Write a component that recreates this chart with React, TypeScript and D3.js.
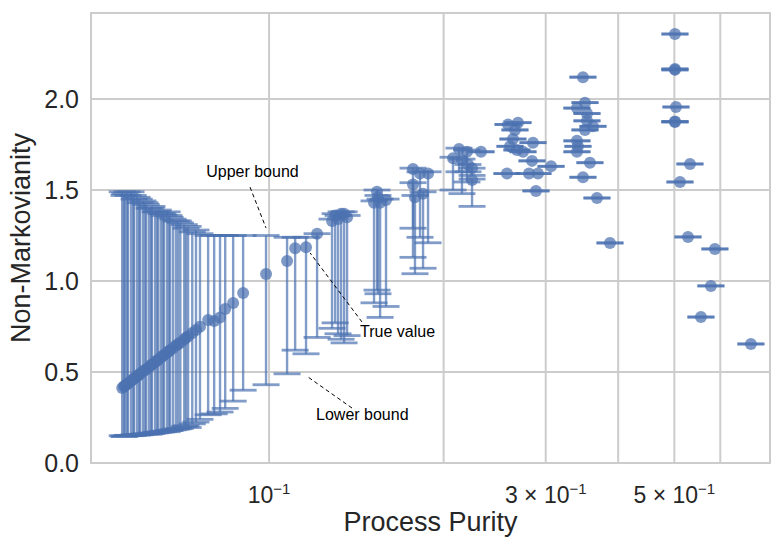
import React, { useEffect } from 'react';
import * as d3 from 'd3';

const W = 773;
const H = 538;
const margin = { top: 13, right: 3, bottom: 75, left: 91 };

// [purity, true value, lower bound, upper bound]
const lowPurityBand = [
  [0.0558, 0.412, 0.150, 1.49],
  [0.0562, 0.420, 0.145, 1.47],
  [0.0564, 0.425, 0.148, 1.48],
  [0.0569, 0.433, 0.150, 1.49],
  [0.0571, 0.438, 0.152, 1.47],
  [0.0578, 0.451, 0.150, 1.49],
  [0.0583, 0.459, 0.152, 1.47],
  [0.0585, 0.464, 0.155, 1.45],
  [0.0592, 0.477, 0.153, 1.46],
  [0.0597, 0.485, 0.157, 1.45],
  [0.0599, 0.490, 0.155, 1.43],
  [0.0606, 0.503, 0.158, 1.44],
  [0.0611, 0.511, 0.160, 1.43],
  [0.0614, 0.515, 0.160, 1.42],
  [0.0621, 0.528, 0.158, 1.40],
  [0.0626, 0.537, 0.165, 1.40],
  [0.0628, 0.541, 0.162, 1.41],
  [0.0636, 0.554, 0.165, 1.38],
  [0.0641, 0.563, 0.170, 1.38],
  [0.0644, 0.567, 0.168, 1.39],
  [0.0651, 0.580, 0.170, 1.37],
  [0.0656, 0.589, 0.172, 1.37],
  [0.0659, 0.593, 0.175, 1.36],
  [0.0667, 0.606, 0.172, 1.38],
  [0.0672, 0.615, 0.180, 1.36],
  [0.0675, 0.619, 0.178, 1.35],
  [0.0683, 0.632, 0.182, 1.34],
  [0.0691, 0.645, 0.185, 1.33],
  [0.0697, 0.653, 0.188, 1.33],
  [0.0703, 0.662, 0.190, 1.32],
  [0.0714, 0.679, 0.200, 1.31],
  [0.0719, 0.688, 0.205, 1.29],
  [0.0725, 0.696, 0.195, 1.30],
  [0.0737, 0.714, 0.215, 1.27],
  [0.0748, 0.731, 0.225, 1.28],
  [0.0760, 0.748, 0.240, 1.26],
  [0.0785, 0.786, 0.265, 1.25],
  [0.0804, 0.780, 0.270, 1.25],
  [0.0823, 0.800, 0.280, 1.25],
  [0.0840, 0.846, 0.300, 1.25],
  [0.0867, 0.879, 0.340, 1.25],
  [0.0902, 0.934, 0.400, 1.25],
];

const midBand = [
  [0.0988, 1.038, 0.430, 1.25],
  [0.1074, 1.110, 0.490, 1.24],
  [0.1109, 1.180, 0.620, 1.24],
  [0.1158, 1.185, 0.600, 1.24],
  [0.1210, 1.260, 0.690, 1.26],
  [0.1284, 1.33, 0.74, 1.34],
  [0.1300, 1.36, 0.77, 1.37],
  [0.1315, 1.34, 0.71, 1.36],
  [0.1331, 1.37, 0.68, 1.38],
  [0.1347, 1.37, 0.66, 1.38],
  [0.1363, 1.35, 0.70, 1.36],
  [0.1517, 1.43, 0.88, 1.44],
  [0.1535, 1.49, 0.95, 1.50],
  [0.1541, 1.46, 0.93, 1.47],
  [0.1554, 1.43, 0.80, 1.45],
  [0.1591, 1.445, 0.86, 1.45],
  [0.1771, 1.615, 1.29, 1.62],
  [0.1771, 1.53, 1.13, 1.54],
  [0.1785, 1.46, 1.04, 1.47],
  [0.1821, 1.59, 1.24, 1.60],
  [0.1843, 1.48, 1.07, 1.49],
  [0.1880, 1.59, 1.21, 1.60],
  [0.2076, 1.675, 1.50, 1.68],
  [0.2126, 1.725, 1.60, 1.73],
  [0.2151, 1.665, 1.48, 1.67],
  [0.2194, 1.71, 1.544, 1.72],
  [0.2203, 1.64, 1.60, 1.64],
  [0.2239, 1.62, 1.58, 1.62],
  [0.2239, 1.555, 1.41, 1.56],
  [0.2320, 1.71, 1.71, 1.71],
];

// [purity, value] – bounds collapse onto the true value
const tightMid = [
  [0.2687, 1.87], [0.2583, 1.86], [0.2655, 1.83], [0.2634, 1.78],
  [0.2852, 1.76], [0.2603, 1.74], [0.2676, 1.72], [0.2741, 1.71],
  [0.2841, 1.66], [0.3064, 1.63], [0.2572, 1.59], [0.2807, 1.59],
  [0.2909, 1.59], [0.2886, 1.495],
];

const tightHigh = [
  [0.3478, 2.12], [0.3506, 1.98], [0.3396, 1.95], [0.3534, 1.92],
  [0.3534, 1.88], [0.3619, 1.85], [0.3506, 1.83], [0.3396, 1.77],
  [0.3410, 1.74], [0.3396, 1.71], [0.3576, 1.65], [0.3478, 1.57],
  [0.3677, 1.456], [0.3872, 1.209],
];

const tightTop = [
  [0.5012, 2.357], [0.5012, 2.16], [0.5012, 2.165], [0.5032, 1.956],
  [0.5012, 1.874], [0.5012, 1.876], [0.5320, 1.643], [0.5113, 1.544],
  [0.5278, 1.242], [0.5874, 1.176], [0.5781, 0.973], [0.5557, 0.802],
  [0.6776, 0.654],
];

const yTicks = [0, 0.5, 1.0, 1.5, 2.0];
const xGridValues = [0.1, 0.2, 0.3, 0.4, 0.5, 0.6];
const xTickLabels = [
  { value: 0.1, coef: '' },
  { value: 0.3, coef: '3' },
  { value: 0.5, coef: '5' },
];

// label, text anchor [purity, value], line from [purity, value] to [purity, value]
const annotations = [
  { label: 'Upper bound', text: [0.0779, 1.571], from: [0.0927, 1.516], to: [0.0988, 1.291] },
  { label: 'True value', text: [0.1435, 0.692], from: [0.1446, 0.775], to: [0.1177, 1.154] },
  { label: 'Lower bound', text: [0.1205, 0.236], from: [0.1390, 0.302], to: [0.1167, 0.4725] },
];

const COLOR = '#4c72b0';
const GRID = '#cccccc';
const TEXT = '#262626';
const FONT = '"Liberation Sans", Arial, sans-serif';

export default function App() {
  useEffect(() => {
    document.body.style.margin = '0';
  }, []);

  const x = d3.scaleLog().domain([0.0493, 0.731]).range([margin.left, W - margin.right]);
  const y = d3.scaleLinear().domain([0, 2.4725]).range([H - margin.bottom, margin.top]);

  const rows = [
    ...lowPurityBand,
    ...midBand,
    ...[...tightMid, ...tightHigh, ...tightTop].map(([p, v]) => [p, v, v, v]),
  ];

  const cap = 13.5;
  const x0 = margin.left;
  const x1 = W - margin.right;
  const y0 = H - margin.bottom;
  const y1 = margin.top;

  return (
    <svg width={W} height={H} style={{ display: 'block', background: '#fff' }} fontFamily={FONT}>
      {/* grid */}
      {yTicks.map(t => (
        <line key={'gy' + t} x1={x0} x2={x1} y1={y(t)} y2={y(t)} stroke={GRID} strokeWidth={2} />
      ))}
      {xGridValues.map(t => (
        <line key={'gx' + t} x1={x(t)} x2={x(t)} y1={y0} y2={y1} stroke={GRID} strokeWidth={2} />
      ))}
      <rect x={x0} y={y1} width={x1 - x0} height={y0 - y1} fill="none" stroke={GRID} strokeWidth={2} />

      {/* error bars and points */}
      <g>
        {rows.map(([p, v, lo, hi], i) => {
          const cx = x(p);
          return (
            <g key={i}>
              <line x1={cx} x2={cx} y1={y(lo)} y2={y(hi)} stroke={COLOR} strokeWidth={2.4} strokeOpacity={0.7} />
              <line x1={cx - cap} x2={cx + cap} y1={y(lo)} y2={y(lo)} stroke={COLOR} strokeWidth={2.8} strokeOpacity={0.7} />
              <line x1={cx - cap} x2={cx + cap} y1={y(hi)} y2={y(hi)} stroke={COLOR} strokeWidth={2.8} strokeOpacity={0.7} />
              <circle cx={cx} cy={y(v)} r={6} fill={COLOR} fillOpacity={0.72} />
            </g>
          );
        })}
      </g>

      {/* annotations */}
      {annotations.map(a => (
        <g key={a.label}>
          <line
            x1={x(a.from[0])} y1={y(a.from[1])} x2={x(a.to[0])} y2={y(a.to[1])}
            stroke="#000" strokeWidth={1} strokeDasharray="4,3"
          />
          <text x={x(a.text[0])} y={y(a.text[1])} fontSize={16} fill="#000">{a.label}</text>
        </g>
      ))}

      {/* y ticks */}
      {yTicks.map(t => (
        <text key={'ty' + t} x={x0 - 12} y={y(t)} dy="0.35em" textAnchor="end" fontSize={25} fill={TEXT}>
          {d3.format('.1f')(t)}
        </text>
      ))}

      {/* x ticks */}
      {xTickLabels.map(t => (
        <text key={'tx' + t.value} x={x(t.value)} y={503} textAnchor="middle" fontSize={23} fill={TEXT}>
          {t.coef ? `${t.coef} × 10` : '10'}
          <tspan dy={-9} fontSize={15}>−1</tspan>
        </text>
      ))}

      <text x={(x0 + x1) / 2} y={531} textAnchor="middle" fontSize={27} fill={TEXT}>Process Purity</text>
      <text
        transform={`translate(${30},${(y0 + y1) / 2}) rotate(-90)`}
        textAnchor="middle" fontSize={27} fill={TEXT}
      >
        Non-Markovianity
      </text>
    </svg>
  );
}
